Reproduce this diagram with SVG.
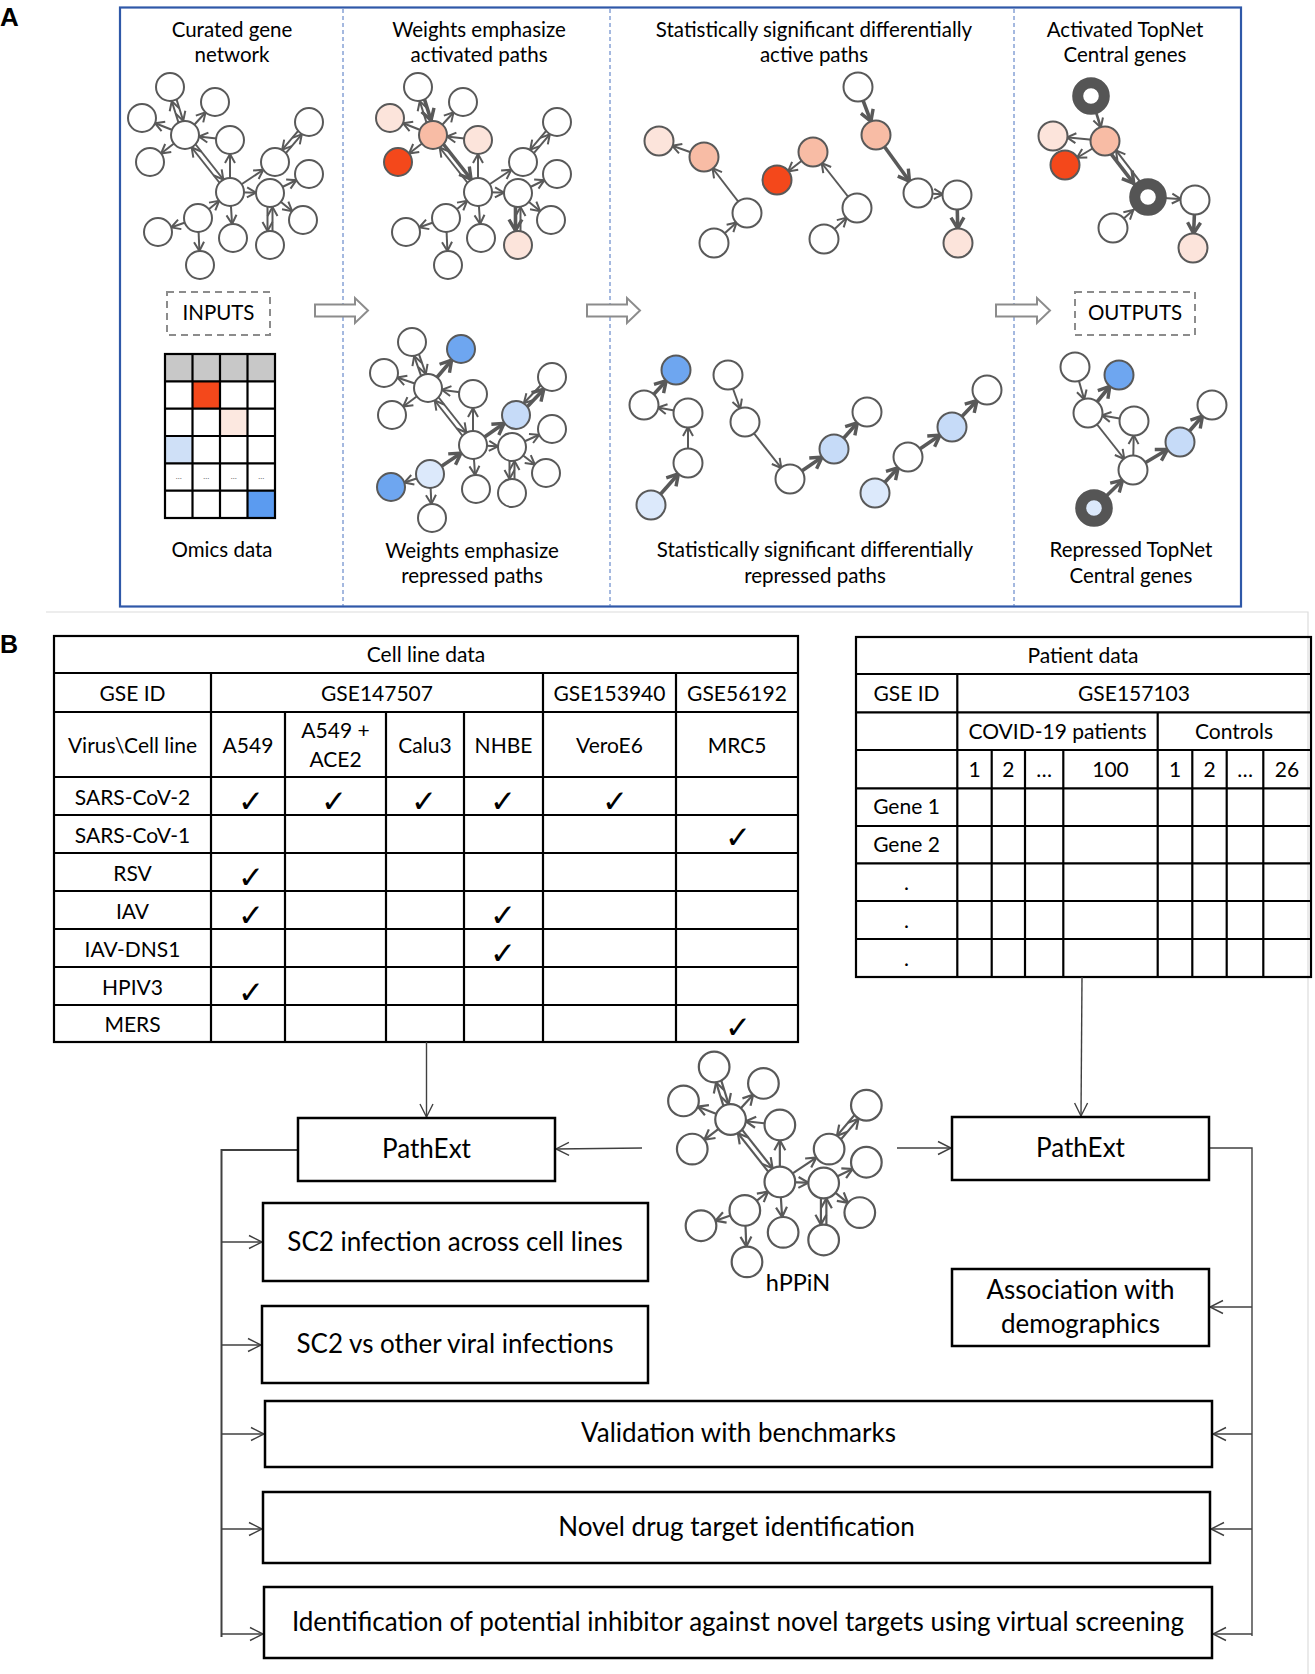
<svg xmlns="http://www.w3.org/2000/svg" xmlns:xlink="http://www.w3.org/1999/xlink" width="1315" height="1674" viewBox="0 0 1315 1674">
<style>
.t{font-family:Lato,"Open Sans","Liberation Sans",sans-serif;fill:#000;text-anchor:middle}
.ta{font-size:20.5px}
.tb{font-size:21px}
.tc{font-size:26px}
.lbl{font-family:"Liberation Sans",Arial,sans-serif;font-weight:bold;font-size:26px;fill:#000}
.nd{stroke:#595959;stroke-width:2;fill:#fff}
.ring{stroke:#555;stroke-width:11;fill:#fff}
.e line{stroke:#595959;stroke-width:2;fill:none;marker-end:url(#a14)}
line.e{stroke:#595959;stroke-width:2;marker-end:url(#a14)}
line.et{stroke:#595959;stroke-width:3.6;marker-end:url(#a14t)}
.W{fill:#fff}.S{fill:#f8bca5}.P{fill:#fce4db}.R{fill:#f4481b}.BD{fill:#6ea6f0}.LB{fill:#c6dbf8}.LL{fill:#dce9fb}
.box{fill:#fff;stroke:#000;stroke-width:2.5}
.grid{stroke:#000;stroke-width:2.2;fill:none}
.cn{stroke:#404040;stroke-width:1.4;fill:none}
.cna{stroke:#404040;stroke-width:1.4;fill:none;marker-end:url(#ab)}
.chk{font-family:"DejaVu Sans",sans-serif;font-size:31px;text-anchor:middle;fill:#000}
.harrow{fill:#fff;stroke:#8c8c8c;stroke-width:2}
</style>
<defs>
<marker id="a14" markerUnits="userSpaceOnUse" orient="auto" refX="14" refY="0" markerWidth="10" markerHeight="10" overflow="visible"><path d="M-9,-5 L0,0 L-9,5" fill="none" stroke="#595959" stroke-width="2"/></marker>
<marker id="a14t" markerUnits="userSpaceOnUse" orient="auto" refX="14.5" refY="0" markerWidth="10" markerHeight="10" overflow="visible"><path d="M-11,-6.5 L0,0 L-11,6.5" fill="none" stroke="#595959" stroke-width="3.4"/></marker>
<marker id="a19" markerUnits="userSpaceOnUse" orient="auto" refX="19.5" refY="0" markerWidth="10" markerHeight="10" overflow="visible"><path d="M-9,-5 L0,0 L-9,5" fill="none" stroke="#595959" stroke-width="2"/></marker>
<marker id="a19t" markerUnits="userSpaceOnUse" orient="auto" refX="19.5" refY="0" markerWidth="10" markerHeight="10" overflow="visible"><path d="M-11,-6.5 L0,0 L-11,6.5" fill="none" stroke="#595959" stroke-width="3.4"/></marker>
<marker id="ab" markerUnits="userSpaceOnUse" orient="auto" refX="0" refY="0" markerWidth="10" markerHeight="10" overflow="visible"><path d="M-13,-6.5 L0,0 L-13,6.5" fill="none" stroke="#404040" stroke-width="1.4"/></marker>
<g id="net1e" class="e">
<line x1="172.4" y1="86.25" x2="187.4" y2="134.25"/>
<line x1="182.6" y1="135.75" x2="167.6" y2="87.75"/>
<line x1="185" y1="135" x2="215" y2="102"/>
<line x1="185" y1="135" x2="142" y2="118"/>
<line x1="230" y1="140" x2="185" y2="135"/>
<line x1="185" y1="135" x2="150" y2="162"/>
<line x1="187" y1="133.5" x2="232" y2="190.5"/>
<line x1="228" y1="193.5" x2="183" y2="136.5"/>
<line x1="230" y1="192" x2="230" y2="140"/>
<line x1="230" y1="192" x2="275" y2="162"/>
<line x1="276.9" y1="163.6" x2="310.9" y2="123.6"/>
<line x1="307.1" y1="120.4" x2="273.1" y2="160.4"/>
<line x1="230" y1="192" x2="270" y2="193"/>
<line x1="270" y1="193" x2="309" y2="174"/>
<line x1="270" y1="193" x2="303" y2="220"/>
<line x1="267.5" y1="193" x2="267.5" y2="245"/>
<line x1="272.5" y1="245" x2="272.5" y2="193"/>
<line x1="198" y1="218" x2="230" y2="192"/>
<line x1="198" y1="218" x2="158" y2="232"/>
<line x1="198" y1="218" x2="200" y2="265"/>
<line x1="230" y1="192" x2="233" y2="238"/>
</g>
<g id="net1n" class="nd">
<circle cx="170" cy="87" r="14"/><circle cx="215" cy="102" r="14"/><circle cx="142" cy="118" r="14"/><circle cx="185" cy="135" r="14"/><circle cx="230" cy="140" r="14"/><circle cx="309" cy="122" r="14"/><circle cx="150" cy="162" r="14"/><circle cx="275" cy="162" r="14"/><circle cx="309" cy="174" r="14"/><circle cx="230" cy="192" r="14"/><circle cx="270" cy="193" r="14"/><circle cx="198" cy="218" r="14"/><circle cx="158" cy="232" r="14"/><circle cx="233" cy="238" r="14"/><circle cx="303" cy="220" r="14"/><circle cx="270" cy="245" r="14"/><circle cx="200" cy="265" r="14"/>
</g>
</defs>

<rect width="1315" height="1674" fill="#fff"/>

<!-- Panel A -->
<g id="panelA">
<text class="lbl" x="0" y="26">A</text>
<rect x="120" y="7.5" width="1121" height="599" fill="none" stroke="#2f58a8" stroke-width="2.2"/>
<g stroke="#4a73c0" stroke-width="1" stroke-dasharray="4,3">
<line x1="343" y1="9" x2="343" y2="606"/>
<line x1="610" y1="9" x2="610" y2="606"/>
<line x1="1014" y1="9" x2="1014" y2="606"/>
</g>
<g class="t ta">
<text x="232" y="37">Curated gene</text><text x="232" y="62">network</text>
<text x="479" y="37">Weights emphasize</text><text x="479" y="62">activated paths</text>
<text x="814" y="37">Statistically significant differentially</text><text x="814" y="62">active paths</text>
<text x="1125" y="37">Activated TopNet</text><text x="1125" y="62">Central genes</text>
<text x="222" y="557">Omics data</text>
<text x="472" y="558">Weights emphasize</text><text x="472" y="583">repressed paths</text>
<text x="815" y="557">Statistically significant differentially</text><text x="815" y="583">repressed paths</text>
<text x="1131" y="557">Repressed TopNet</text><text x="1131" y="583">Central genes</text>
</g>
</g>

<g id="inputs">
<rect x="167" y="292" width="103" height="43" fill="none" stroke="#8c8c8c" stroke-width="2" stroke-dasharray="7,5"/>
<text class="t ta" x="218.5" y="320">INPUTS</text>
</g>
<g id="outputs">
<rect x="1075" y="292" width="120" height="43" fill="none" stroke="#8c8c8c" stroke-width="2" stroke-dasharray="7,5"/>
<text class="t ta" x="1135" y="320">OUTPUTS</text>
</g>
<g id="flowArrows">
<polygon class="harrow" points="315,304.5 355,304.5 355,298 368,310.5 355,323 355,316.5 315,316.5"/>
<polygon class="harrow" points="587,304.5 627,304.5 627,298 640,310.5 627,323 627,316.5 587,316.5"/>
<polygon class="harrow" points="996,304.5 1037,304.5 1037,298 1050,310.5 1037,323 1037,316.5 996,316.5"/>
</g>

<g id="omics">
<rect x="165" y="354" width="110" height="27.33" fill="#c8c8c8"/>
<rect x="192.5" y="381.33" width="27.5" height="27.33" fill="#f4481b"/>
<rect x="220" y="408.67" width="27.5" height="27.33" fill="#fce8e0"/>
<rect x="165" y="436" width="27.5" height="27.33" fill="#cfe0f7"/>
<rect x="247.5" y="490.67" width="27.5" height="27.33" fill="#5b9bf0"/>
<g class="grid">
<rect x="165" y="354" width="110" height="164"/>
<line x1="192.5" y1="354" x2="192.5" y2="518"/><line x1="220" y1="354" x2="220" y2="518"/><line x1="247.5" y1="354" x2="247.5" y2="518"/>
<line x1="165" y1="381.33" x2="275" y2="381.33"/><line x1="165" y1="408.67" x2="275" y2="408.67"/><line x1="165" y1="436" x2="275" y2="436"/><line x1="165" y1="463.33" x2="275" y2="463.33"/><line x1="165" y1="490.67" x2="275" y2="490.67"/>
</g>
<g class="t" style="font-size:8px;fill:#666">
<text x="178.75" y="479">…</text><text x="206.25" y="479">…</text><text x="233.75" y="479">…</text><text x="261.25" y="479">…</text>
</g>
</g>

<!-- network 1 -->
<g id="net1">
<use xlink:href="#net1e" href="#net1e"/>
<use xlink:href="#net1n" href="#net1n"/>
</g>

<!-- network 2 : activated weights -->
<g id="net2">
<use xlink:href="#net1e" href="#net1e" transform="translate(248,0)"/>
<line class="et" x1="420.4" y1="86.25" x2="435.4" y2="134.25"/>
<line class="et" x1="435" y1="133.5" x2="480" y2="190.5"/>
<line class="et" x1="515.5" y1="193" x2="515.5" y2="245"/>
<g class="nd">
<circle class="W" cx="418" cy="87" r="14"/><circle class="W" cx="463" cy="102" r="14"/><circle class="P" cx="390" cy="118" r="14"/><circle class="S" cx="433" cy="135" r="14"/><circle class="P" cx="478" cy="140" r="14"/><circle class="W" cx="557" cy="122" r="14"/><circle class="R" cx="398" cy="162" r="14"/><circle class="W" cx="523" cy="162" r="14"/><circle class="W" cx="557" cy="174" r="14"/><circle class="W" cx="478" cy="192" r="14"/><circle class="W" cx="518" cy="193" r="14"/><circle class="W" cx="446" cy="218" r="14"/><circle class="W" cx="406" cy="232" r="14"/><circle class="W" cx="481" cy="238" r="14"/><circle class="W" cx="551" cy="220" r="14"/><circle class="P" cx="518" cy="245" r="14"/><circle class="W" cx="448" cy="265" r="14"/>
</g>
</g>

<!-- network 3 : repressed weights -->
<g id="net3">
<line class="e" x1="414.4" y1="341.2" x2="430.4" y2="387.2"/>
<line class="e" x1="425.6" y1="388.8" x2="409.6" y2="342.8"/>
<line class="et" x1="428" y1="388" x2="461" y2="349"/>
<line class="e" x1="428" y1="388" x2="384" y2="373"/>
<line class="e" x1="473" y1="394" x2="428" y2="388"/>
<line class="e" x1="428" y1="388" x2="392" y2="415"/>
<line class="e" x1="430" y1="386.5" x2="475" y2="443.5"/>
<line class="e" x1="471" y1="446.5" x2="426" y2="389.5"/>
<line class="e" x1="473" y1="445" x2="473" y2="394"/>
<line class="et" x1="473" y1="445" x2="516" y2="415"/>
<line class="et" x1="517.8" y1="416.7" x2="553.8" y2="378.7"/>
<line class="e" x1="550.2" y1="375.3" x2="514.2" y2="413.3"/>
<line class="e" x1="473" y1="445" x2="512" y2="447"/>
<line class="e" x1="512" y1="447" x2="552" y2="429"/>
<line class="e" x1="512" y1="447" x2="546" y2="473"/>
<line class="e" x1="509.5" y1="447" x2="509.5" y2="493"/>
<line class="e" x1="514.5" y1="493" x2="514.5" y2="447"/>
<line class="et" x1="430" y1="474" x2="473" y2="445"/>
<line class="e" x1="430" y1="474" x2="391" y2="487"/>
<line class="e" x1="430" y1="474" x2="432" y2="518"/>
<line class="e" x1="473" y1="445" x2="476" y2="489"/>
<g class="nd">
<circle class="W" cx="412" cy="342" r="14"/><circle class="BD" cx="461" cy="349" r="14"/><circle class="W" cx="384" cy="373" r="14"/><circle class="W" cx="428" cy="388" r="14"/><circle class="W" cx="473" cy="394" r="14"/><circle class="W" cx="552" cy="377" r="14"/><circle class="W" cx="392" cy="415" r="14"/><circle class="LB" cx="516" cy="415" r="14"/><circle class="W" cx="552" cy="429" r="14"/><circle class="W" cx="473" cy="445" r="14"/><circle class="W" cx="512" cy="447" r="14"/><circle class="LL" cx="430" cy="474" r="14"/><circle class="BD" cx="391" cy="487" r="14"/><circle class="W" cx="476" cy="489" r="14"/><circle class="W" cx="546" cy="473" r="14"/><circle class="W" cx="512" cy="493" r="14"/><circle class="W" cx="432" cy="518" r="14"/>
</g>
</g>

<!-- activated paths -->
<g id="actPaths">
<line class="e" x1="714" y1="243" x2="747" y2="213"/>
<line class="e" x1="747" y1="213" x2="704" y2="157"/>
<line class="e" x1="704" y1="157" x2="659" y2="141"/>
<line class="e" x1="824" y1="239" x2="857" y2="208"/>
<line class="e" x1="857" y1="208" x2="813" y2="152"/>
<line class="e" x1="813" y1="152" x2="777" y2="180"/>
<line class="et" x1="858" y1="87" x2="876" y2="135"/>
<line class="et" x1="876" y1="135" x2="918" y2="193"/>
<line class="e" x1="918" y1="193" x2="957" y2="195"/>
<line class="et" x1="957" y1="195" x2="958" y2="243"/>
<g class="nd">
<circle class="P" cx="659" cy="141" r="14.5"/><circle class="S" cx="704" cy="157" r="14.5"/><circle class="W" cx="747" cy="213" r="14.5"/><circle class="W" cx="714" cy="243" r="14.5"/>
<circle class="R" cx="777" cy="180" r="14.5"/><circle class="S" cx="813" cy="152" r="14.5"/><circle class="W" cx="857" cy="208" r="14.5"/><circle class="W" cx="824" cy="239" r="14.5"/>
<circle class="W" cx="858" cy="87" r="14.5"/><circle class="S" cx="876" cy="135" r="14.5"/><circle class="W" cx="918" cy="193" r="14.5"/><circle class="W" cx="957" cy="195" r="14.5"/><circle class="P" cx="958" cy="243" r="14.5"/>
</g>
</g>

<!-- repressed paths -->
<g id="repPaths">
<line class="et" x1="651" y1="505" x2="688" y2="463"/>
<line class="e" x1="688" y1="463" x2="688" y2="413"/>
<line class="e" x1="688" y1="413" x2="644" y2="405"/>
<line class="et" x1="644" y1="405" x2="676" y2="370"/>
<line class="e" x1="728" y1="375" x2="745" y2="422"/>
<line class="e" x1="745" y1="422" x2="790" y2="479"/>
<line class="et" x1="790" y1="479" x2="834" y2="449"/>
<line class="et" x1="834" y1="449" x2="867" y2="412"/>
<line class="et" x1="875" y1="493" x2="908" y2="457"/>
<line class="et" x1="908" y1="457" x2="952" y2="427"/>
<line class="et" x1="952" y1="427" x2="987" y2="390"/>
<g class="nd">
<circle class="BD" cx="676" cy="370" r="14.5"/><circle class="W" cx="644" cy="405" r="14.5"/><circle class="W" cx="688" cy="413" r="14.5"/><circle class="W" cx="688" cy="463" r="14.5"/><circle class="LL" cx="651" cy="505" r="14.5"/>
<circle class="W" cx="728" cy="375" r="14.5"/><circle class="W" cx="745" cy="422" r="14.5"/><circle class="W" cx="790" cy="479" r="14.5"/><circle class="LB" cx="834" cy="449" r="14.5"/><circle class="W" cx="867" cy="412" r="14.5"/>
<circle class="LL" cx="875" cy="493" r="14.5"/><circle class="W" cx="908" cy="457" r="14.5"/><circle class="LB" cx="952" cy="427" r="14.5"/><circle class="W" cx="987" cy="390" r="14.5"/>
</g>
</g>

<!-- activated TopNet -->
<g id="actTop">
<line x1="1091" y1="96" x2="1105" y2="141" stroke="#595959" stroke-width="2.6" marker-end="url(#a14)"/>
<line class="e" x1="1105" y1="141" x2="1053" y2="136"/>
<line class="e" x1="1105" y1="141" x2="1065" y2="165"/>
<line x1="1102.6" y1="142.8" x2="1145.6" y2="198.8" stroke="#595959" stroke-width="3.6" marker-end="url(#a19t)"/>
<line class="e" x1="1150.4" y1="195.2" x2="1107.4" y2="139.2"/>
<line x1="1148" y1="197" x2="1195" y2="200" stroke="#595959" stroke-width="2" marker-end="url(#a14)"/>
<line x1="1113" y1="228" x2="1148" y2="197" stroke="#595959" stroke-width="2" marker-end="url(#a19)"/>
<line class="et" x1="1195" y1="200" x2="1193" y2="248"/>
<g class="nd">
<circle class="P" cx="1053" cy="136" r="14.5"/><circle class="S" cx="1105" cy="141" r="14.5"/><circle class="R" cx="1065" cy="165" r="14.5"/><circle class="W" cx="1195" cy="200" r="14.5"/><circle class="W" cx="1113" cy="228" r="14.5"/><circle class="P" cx="1193" cy="248" r="14.5"/>
</g>
<circle class="ring" cx="1091" cy="96" r="13.3"/>
<circle class="ring" cx="1148" cy="197" r="13.3"/>
</g>

<!-- repressed TopNet -->
<g id="repTop">
<line class="e" x1="1075" y1="367" x2="1088" y2="413"/>
<line class="et" x1="1088" y1="413" x2="1119" y2="375"/>
<line class="e" x1="1134" y1="421" x2="1088" y2="413"/>
<line class="e" x1="1088" y1="413" x2="1133" y2="470"/>
<line class="e" x1="1133" y1="470" x2="1134" y2="421"/>
<line class="et" x1="1094" y1="508" x2="1133" y2="470"/>
<line class="et" x1="1133" y1="470" x2="1180" y2="442"/>
<line class="et" x1="1180" y1="442" x2="1212" y2="405"/>
<g class="nd">
<circle class="W" cx="1075" cy="367" r="14.5"/><circle class="BD" cx="1119" cy="375" r="14.5"/><circle class="W" cx="1088" cy="413" r="14.5"/><circle class="W" cx="1134" cy="421" r="14.5"/><circle class="W" cx="1212" cy="405" r="14.5"/><circle class="LB" cx="1180" cy="442" r="14.5"/><circle class="W" cx="1133" cy="470" r="14.5"/>
</g>
<circle class="ring" cx="1094" cy="508" r="13.3" style="fill:#dce9fb"/>
</g>

<!-- Panel B -->
<g id="panelB">
<text class="lbl" x="0" y="653" style="font-size:25px">B</text>
<path d="M46,612 H1308 V1674" fill="none" stroke="#dcdcdc" stroke-width="1.2"/>
</g>

<g id="cellTable">
<g class="grid">
<rect x="54" y="636" width="744" height="406"/>
<line x1="54" y1="673" x2="798" y2="673"/>
<line x1="54" y1="712" x2="798" y2="712"/>
<line x1="54" y1="777" x2="798" y2="777"/>
<line x1="54" y1="815" x2="798" y2="815"/>
<line x1="54" y1="853" x2="798" y2="853"/>
<line x1="54" y1="891" x2="798" y2="891"/>
<line x1="54" y1="929" x2="798" y2="929"/>
<line x1="54" y1="967" x2="798" y2="967"/>
<line x1="54" y1="1005" x2="798" y2="1005"/>
<line x1="211" y1="673" x2="211" y2="1042"/>
<line x1="285" y1="712" x2="285" y2="1042"/>
<line x1="386" y1="712" x2="386" y2="1042"/>
<line x1="464" y1="712" x2="464" y2="1042"/>
<line x1="543" y1="673" x2="543" y2="1042"/>
<line x1="676" y1="673" x2="676" y2="1042"/>
</g>
<g class="t tb">
<text x="426" y="662">Cell line data</text>
<text x="132.5" y="701">GSE ID</text><text x="377" y="701">GSE147507</text><text x="609.5" y="701">GSE153940</text><text x="737" y="701">GSE56192</text>
<text x="132.5" y="752.5">Virus\Cell line</text><text x="248" y="752.5">A549</text><text x="335.5" y="738">A549 +</text><text x="335.5" y="766.5">ACE2</text><text x="425" y="752.5">Calu3</text><text x="503.5" y="752.5">NHBE</text><text x="609.5" y="752.5">VeroE6</text><text x="737" y="752.5">MRC5</text>
<text x="132.5" y="804.5">SARS-CoV-2</text>
<text x="132.5" y="842.5">SARS-CoV-1</text>
<text x="132.5" y="880.5">RSV</text>
<text x="132.5" y="918.5">IAV</text>
<text x="132.5" y="956.5">IAV-DNS1</text>
<text x="132.5" y="994.5">HPIV3</text>
<text x="132.5" y="1032">MERS</text>
</g>
<g class="chk">
<text x="251" y="812">✓</text><text x="334" y="812">✓</text><text x="424" y="812">✓</text><text x="503" y="812">✓</text><text x="615" y="812">✓</text>
<text x="738" y="848">✓</text>
<text x="251" y="888">✓</text>
<text x="251" y="926">✓</text><text x="503" y="926">✓</text>
<text x="503" y="964">✓</text>
<text x="251" y="1003">✓</text>
<text x="738" y="1038">✓</text>
</g>
</g>

<g id="patientTable">
<g class="grid">
<rect x="856" y="637" width="455" height="340"/>
<line x1="856" y1="674" x2="1311" y2="674"/>
<line x1="856" y1="712.3" x2="1311" y2="712.3"/>
<line x1="856" y1="750" x2="1311" y2="750"/>
<line x1="856" y1="788.3" x2="1311" y2="788.3"/>
<line x1="856" y1="826" x2="1311" y2="826"/>
<line x1="856" y1="863.3" x2="1311" y2="863.3"/>
<line x1="856" y1="901" x2="1311" y2="901"/>
<line x1="856" y1="939" x2="1311" y2="939"/>
<line x1="957.3" y1="674" x2="957.3" y2="977"/>
<line x1="991.7" y1="750" x2="991.7" y2="977"/>
<line x1="1025" y1="750" x2="1025" y2="977"/>
<line x1="1063.3" y1="750" x2="1063.3" y2="977"/>
<line x1="1157.7" y1="712.3" x2="1157.7" y2="977"/>
<line x1="1192.3" y1="750" x2="1192.3" y2="977"/>
<line x1="1226.7" y1="750" x2="1226.7" y2="977"/>
<line x1="1263.3" y1="750" x2="1263.3" y2="977"/>
</g>
<g class="t tb">
<text x="1083" y="663">Patient data</text>
<text x="906.5" y="701">GSE ID</text><text x="1134" y="701">GSE157103</text>
<text x="1057.5" y="739">COVID-19 patients</text><text x="1234" y="739">Controls</text>
<text x="974.5" y="777">1</text><text x="1008.3" y="777">2</text><text x="1044" y="777">…</text><text x="1110.5" y="777">100</text><text x="1175" y="777">1</text><text x="1209.5" y="777">2</text><text x="1245" y="777">…</text><text x="1287" y="777">26</text>
<text x="906.5" y="814">Gene 1</text><text x="906.5" y="852">Gene 2</text>
<text x="906.5" y="890">.</text><text x="906.5" y="928">.</text><text x="906.5" y="966">.</text>
</g>
</g>

<!-- hPPiN network -->
<g id="hppin">
<g transform="translate(528,971.7) scale(1.095)">
<use xlink:href="#net1e" href="#net1e"/>
<use xlink:href="#net1n" href="#net1n"/>
</g>
<text class="t" x="798" y="1291" style="font-size:23.5px">hPPiN</text>
</g>

<!-- connectors -->
<g id="connectors">
<path class="cna" d="M426.5,1042 V1117"/>
<path class="cna" d="M642,1148 L556,1149"/>
<path class="cna" d="M897,1148 H951"/>
<path class="cna" d="M1082,977 L1081,1116"/>
<path class="cn" d="M298,1150 H221.5 V1637" style="stroke-width:2"/>
<path class="cna" d="M221.5,1242 H262"/>
<path class="cna" d="M221.5,1345 H261"/>
<path class="cna" d="M221.5,1434 H264"/>
<path class="cna" d="M221.5,1529 H262"/>
<path class="cna" d="M221.5,1634 H263"/>
<path class="cn" d="M1209,1148 H1252 V1636"/>
<path class="cna" d="M1252,1307 H1210"/>
<path class="cna" d="M1252,1434 H1213"/>
<path class="cna" d="M1252,1529 H1211"/>
<path class="cna" d="M1252,1634 H1213"/>
</g>

<g id="pathextL"><rect class="box" x="298" y="1118" width="257" height="63"/><text class="t tc" x="426.5" y="1158">PathExt</text></g>
<g id="pathextR"><rect class="box" x="952" y="1117" width="257" height="63"/><text class="t tc" x="1080.5" y="1157">PathExt</text></g>
<g id="sc2cell"><rect class="box" x="263" y="1203" width="385" height="78"/><text class="t tc" x="455" y="1251">SC2 infection across cell lines</text></g>
<g id="sc2viral"><rect class="box" x="262" y="1306" width="386" height="77"/><text class="t tc" x="455" y="1353">SC2 vs other viral infections</text></g>
<g id="assoc"><rect class="box" x="952" y="1269" width="257" height="77"/><text class="t tc" x="1080.5" y="1299">Association with</text><text class="t tc" x="1080.5" y="1333">demographics</text></g>
<g id="valid"><rect class="box" x="265" y="1401" width="947" height="66"/><text class="t tc" x="738.5" y="1442">Validation with benchmarks</text></g>
<g id="novel"><rect class="box" x="263" y="1492" width="947" height="71"/><text class="t tc" x="736.5" y="1536">Novel drug target identification</text></g>
<g id="ident"><rect class="box" x="264" y="1587" width="948" height="71"/><text class="t tc" x="738" y="1631">Identification of potential inhibitor against novel targets using virtual screening</text></g>
</svg>
